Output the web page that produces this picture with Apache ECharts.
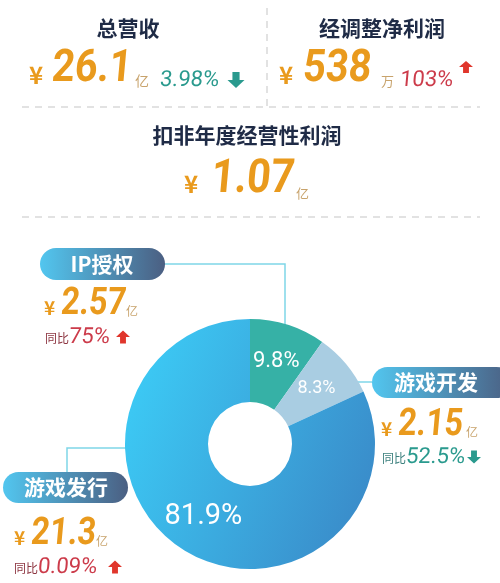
<!DOCTYPE html>
<html>
<head>
<meta charset="utf-8">
<script src="https://cdn.jsdelivr.net/npm/echarts@6/dist/echarts.min.js"></script>
<style>
html,body{margin:0;padding:0;background:#fff;}
#c{width:500px;height:583px;}
</style>
</head>
<body>
<div id="c"></div>
<script>
// ---- data ----
const categories = ['IP授权', '游戏开发', '游戏发行'];
const shares = [9.8, 8.3, 81.9];
const revenues = ['2.57', '2.15', '21.3'];
const yoyValues = ['75%', '52.5%', '0.09%'];
const yoyDirs = ['up', 'down', 'up'];
const kpiTitles = ['总营收', '经调整净利润', '扣非年度经营性利润'];
const kpiValues = ['26.1', '538', '1.07'];
const kpiUnits = ['亿', '万', '亿'];
const kpiChanges = ['3.98%', '103%', ''];
const kpiDirs = ['down', 'up', ''];

// ---- styles ----
const CJK = '"Noto Sans CJK SC", sans-serif';
const NUM = 'Roboto, "Noto Sans", sans-serif';
const ORANGE = '#e99a1d';
const UNIT = '#c8a36c';
const RED = '#cc3b4a';
const RED_ARROW = '#e0362c';
const TEAL = '#2a9a8e';
const NAVY = '#1f2b46';
const LINE = '#7fd6e8';
const DOT = '#6fe6f2';
const SKEW = -0.09;

const chart = echarts.init(document.getElementById('c'), null, {renderer: 'canvas'});

function txt(text, x, y, font, fill, align, skew, sx) {
  return {
    type: 'text', silent: true, x: x, y: y, skewX: skew || 0, scaleX: sx || 1,
    style: {
      text: text, x: 0, y: 0, font: font, fill: fill,
      align: align || 'left', verticalAlign: 'middle',
      textAlign: align || 'left', textVerticalAlign: 'middle'
    }
  };
}
function arrow(cx, cy, w, h, dir, color) {
  const hh = h * 0.5, sw = w * 0.42;
  let pts;
  if (dir === 'up') {
    pts = [[cx, cy - h / 2], [cx + w / 2, cy - h / 2 + hh], [cx + sw / 2, cy - h / 2 + hh],
           [cx + sw / 2, cy + h / 2], [cx - sw / 2, cy + h / 2], [cx - sw / 2, cy - h / 2 + hh],
           [cx - w / 2, cy - h / 2 + hh]];
  } else {
    pts = [[cx, cy + h / 2], [cx + w / 2, cy + h / 2 - hh], [cx + sw / 2, cy + h / 2 - hh],
           [cx + sw / 2, cy - h / 2], [cx - sw / 2, cy - h / 2], [cx - sw / 2, cy + h / 2 - hh],
           [cx - w / 2, cy + h / 2 - hh]];
  }
  return {type: 'polygon', silent: true, shape: {points: pts}, style: {fill: color}};
}
function dashed(x1, y1, x2, y2) {
  return {type: 'line', silent: true, shape: {x1: x1, y1: y1, x2: x2, y2: y2},
    style: {stroke: '#d9d9d9', lineWidth: 1.5, lineDash: [7, 6]}};
}
function pill(x, y, w, h, label, cx) {
  return [
    {type: 'rect', silent: true, shape: {x: x, y: y, width: w, height: h, r: h / 2},
      style: {fill: new echarts.graphic.LinearGradient(0, 0, 1, 0, [
        {offset: 0, color: '#52c6ef'}, {offset: 1, color: '#4b5f82'}])}},
    txt(label, cx, y + h / 2, 'bold 21px ' + CJK, '#ffffff', 'center')
  ];
}
function leader(points, dot) {
  return [
    {type: 'polyline', silent: true, shape: {points: points}, style: {stroke: LINE, lineWidth: 1.5, fill: null}},
    {type: 'circle', silent: true, shape: {cx: dot[0], cy: dot[1], r: 5.5}, style: {fill: DOT}}
  ];
}
function dirColor(d) { return d === 'up' ? RED : TEAL; }
function arrowColor(d) { return d === 'up' ? RED_ARROW : TEAL; }

const g = [];
// KPI header
g.push(txt(kpiTitles[0], 128, 28, 'bold 21px ' + CJK, NAVY, 'center'));
g.push(txt(kpiTitles[1], 382, 28, 'bold 21px ' + CJK, NAVY, 'center'));
g.push(dashed(267, 8, 267, 106));
g.push(dashed(22, 107, 480, 107));
g.push(txt(kpiTitles[2], 247, 135, 'bold 21px ' + CJK, NAVY, 'center'));
g.push(dashed(22, 217, 480, 217));

// KPI 1
g.push(txt('¥', 29, 75, 'bold 24px ' + CJK, ORANGE));
g.push(txt(kpiValues[0], 52, 70, 'bold 45px ' + NUM, ORANGE, 'left', SKEW, 0.88));
g.push(txt(kpiUnits[0], 135, 81, '14px ' + CJK, UNIT));
g.push(txt(kpiChanges[0], 160, 80, '22px ' + NUM, dirColor(kpiDirs[0]), 'left', SKEW));
g.push(arrow(236, 80, 17, 16, kpiDirs[0], arrowColor(kpiDirs[0])));
// KPI 2
g.push(txt('¥', 279, 75, 'bold 24px ' + CJK, ORANGE));
g.push(txt(kpiValues[1], 303, 70, 'bold 45px ' + NUM, ORANGE, 'left', SKEW, 0.88));
g.push(txt(kpiUnits[1], 381, 81, '13px ' + CJK, UNIT));
g.push(txt(kpiChanges[1], 400, 80, '22px ' + NUM, dirColor(kpiDirs[1]), 'left', SKEW));
g.push(arrow(466, 67, 14, 12, kpiDirs[1], arrowColor(kpiDirs[1])));
// KPI 3
g.push(txt('¥', 184, 184, 'bold 24px ' + CJK, ORANGE));
g.push(txt(kpiValues[2], 211, 180, 'bold 47px ' + NUM, ORANGE, 'left', SKEW, 0.88));
g.push(txt(kpiUnits[2], 296, 193, '13px ' + CJK, UNIT));

// Segment annotations
const seg = [
  {pill: [40, 248, 125, 32, 102], line: [[165, 264], [285, 264], [285, 348]], dot: [285, 348],
   vx: 44, vy: 306, ux: 126, yx: 45, yy: 337, ax: 123},
  {pill: [372, 367, 140, 31, 436], line: [[347, 382], [372, 382]], dot: [347, 382],
   vx: 381, vy: 427, ux: 466, yx: 382, yy: 457, ax: 474},
  {pill: [3, 472, 125, 31, 66], line: [[150, 448], [67, 448], [67, 472]], dot: [150, 448],
   vx: 14, vy: 536, ux: 96, yx: 14, yy: 567, ax: 115}
];
seg.forEach(function (s, i) {
  leader(s.line, s.dot).forEach(function (e) { g.push(e); });
  pill(s.pill[0], s.pill[1], s.pill[2], s.pill[3], categories[i], s.pill[4]).forEach(function (e) { g.push(e); });
  g.push(txt('¥', s.vx, s.vy + 2, 'bold 19px ' + CJK, ORANGE));
  g.push(txt(revenues[i], s.vx + 17, s.vy - 2, 'bold 38px ' + NUM, ORANGE, 'left', SKEW, 0.85));
  g.push(txt('亿', s.ux, s.vy + 5, '12px ' + CJK, UNIT));
  g.push(txt('同比', s.yx, s.yy + 1, '12px ' + CJK, yoyDirs[i] === 'up' ? '#8c3440' : '#3a7f7c'));
  g.push(txt(yoyValues[i], s.yx + 24, s.yy, '22px ' + NUM, dirColor(yoyDirs[i]), 'left', SKEW));
  g.push(arrow(s.ax, s.yy, 14, 13, yoyDirs[i], arrowColor(yoyDirs[i])));
});

const sliceColors = [
  '#36b1a6',
  '#a9cde2',
  new echarts.graphic.LinearGradient(0, 0.3, 1, 0.7, [
    {offset: 0, color: '#3ccaf5'}, {offset: 1, color: '#3a8bc9'}])
];
const labelSizes = [22, 18, 29];

const option = {
  backgroundColor: '#ffffff',
  animation: false,
  series: [{
    type: 'pie',
    center: [250, 444],
    radius: [42, 125],
    startAngle: 90,
    clockwise: true,
    silent: true,
    z: 1,
    label: {
      show: true, position: 'inside', color: '#ffffff',
      fontFamily: NUM,
      formatter: function (p) { return p.value + '%'; }
    },
    labelLine: {show: false},
    itemStyle: {borderWidth: 0},
    data: categories.map(function (c, i) {
      return {name: c, value: shares[i], itemStyle: {color: sliceColors[i]},
        label: {fontSize: labelSizes[i]}};
    })
  }],
  graphic: {elements: g}
};
chart.setOption(option);
</script>
</body>
</html>
